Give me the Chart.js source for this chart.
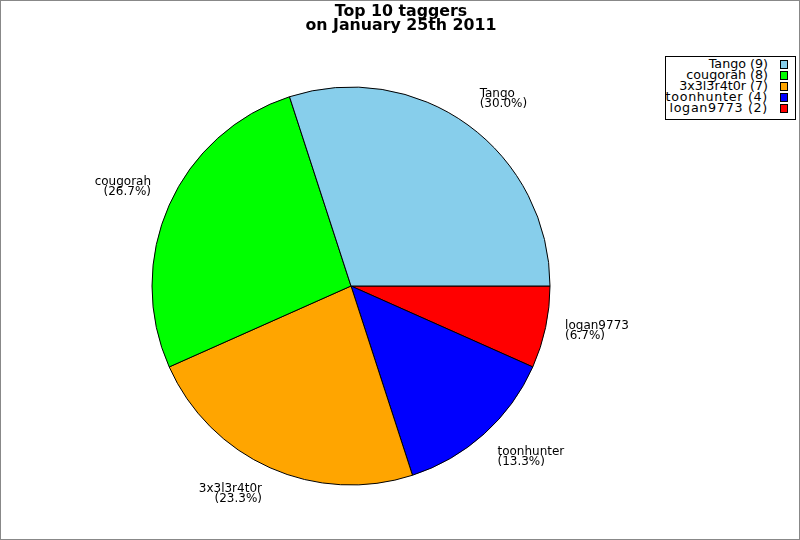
<!DOCTYPE html>
<html>
<head>
<meta charset="utf-8">
<script src="https://cdn.jsdelivr.net/npm/chart.js@4.4.1/dist/chart.umd.min.js"></script>
<style>
  html, body { margin: 0; padding: 0; background: #fff; }
  #frame { position: relative; width: 800px; height: 540px; box-sizing: border-box; border: 1px solid #888; overflow: hidden; background: #fff; }
  #chart { position: absolute; left: 0; top: 0; }
  .title { position: absolute; left: 0; width: 800px; text-align: center; font-family: "DejaVu Sans", sans-serif; font-weight: bold; font-size: 15.8px; line-height: 14px; color: #000; white-space: nowrap; }
  #legend { position: absolute; left: 664px; top: 55px; width: 131px; height: 64px; box-sizing: border-box; border: 1px solid #000; background: #fff; }
  .lrow { position: absolute; right: 27px; font-family: "DejaVu Sans", sans-serif; font-size: 12.7px; line-height: 11px; color: #000; white-space: nowrap; text-align: right; }
  .lbox { position: absolute; left: 114px; width: 8px; height: 9px; box-sizing: border-box; border: 1px solid #000; }
</style>
</head>
<body>
<div id="frame">
  <canvas id="chart" width="800" height="540"></canvas>
  <div class="title" id="t1" style="top:3px"></div>
  <div class="title" id="t2" style="top:17px"></div>
  <div id="legend"></div>
</div>
<script>
// ---- data ----
const titleLines = ['Top 10 taggers', 'on January 25th 2011'];
const taggers = ['Tango', 'cougorah', '3x3l3r4t0r', 'toonhunter', 'logan9773'];
const counts = [9, 8, 7, 4, 2];
const sliceColors = ['#87CEEB', '#00FF00', '#FFA500', '#0000FF', '#FF0000'];

document.getElementById('t1').textContent = titleLines[0];
document.getElementById('t2').textContent = titleLines[1];

const total = counts.reduce((a, b) => a + b, 0);
const pct = counts.map(c => (c / total * 100).toFixed(1));

// legend (HTML)
const legend = document.getElementById('legend');
const legendSpacing = { 'toonhunter': '0.7px', 'logan9773': '0.7px' };
taggers.forEach((name, i) => {
  const row = document.createElement('div');
  row.className = 'lrow';
  row.style.top = (1 + 11 * i) + 'px';
  row.textContent = name + ' (' + counts[i] + ')';
  if (legendSpacing[name]) row.style.letterSpacing = legendSpacing[name];
  legend.appendChild(row);
  const box = document.createElement('div');
  box.className = 'lbox';
  box.style.top = (3 + 11 * i) + 'px';
  box.style.background = sliceColors[i];
  legend.appendChild(box);
});

// R draws counter-clockwise from 3 o'clock; Chart.js goes clockwise,
// so feed the slices in reverse order starting at 3 o'clock.
const revLabels = taggers.slice().reverse();
const revCounts = counts.slice().reverse();
const revColors = sliceColors.slice().reverse();
const revPct = pct.slice().reverse();

const sliceLabels = {
  id: 'sliceLabels',
  afterDatasetsDraw(chart) {
    const ctx = chart.ctx;
    const meta = chart.getDatasetMeta(0);
    ctx.save();
    ctx.font = '12px "DejaVu Sans", sans-serif';
    ctx.fillStyle = '#000';
    ctx.textBaseline = 'alphabetic';
    meta.data.forEach((arc, i) => {
      const p = arc.getProps(['x', 'y', 'startAngle', 'endAngle', 'outerRadius'], true);
      const mid = (p.startAngle + p.endAngle) / 2;
      const c = Math.cos(mid), s = Math.sin(mid);
      const ax = p.x + 1.1 * p.outerRadius * c;
      const ay = p.y + 1.1 * p.outerRadius * s;
      const f = s < 0 ? 1.05 : (s < 0.5 ? 0.6 : 0.15);
      const top = ay - 20 * f;
      ctx.textAlign = c >= 0 ? 'left' : 'right';
      ctx.fillText(revLabels[i], ax, top + 9);
      ctx.fillText('(' + revPct[i] + '%)', ax, top + 19);
    });
    ctx.restore();
  }
};

new Chart(document.getElementById('chart'), {
  type: 'pie',
  data: {
    labels: revLabels,
    datasets: [{
      data: revCounts,
      backgroundColor: revColors,
      borderColor: '#000',
      borderWidth: 1,
      radius: 199
    }]
  },
  options: {
    responsive: false,
    animation: false,
    rotation: 90,
    layout: { padding: { top: 30, bottom: 0, left: 0, right: 100 } },
    plugins: {
      legend: { display: false },
      title: { display: false },
      tooltip: { enabled: false }
    }
  },
  plugins: [sliceLabels]
});
</script>
</body>
</html>
